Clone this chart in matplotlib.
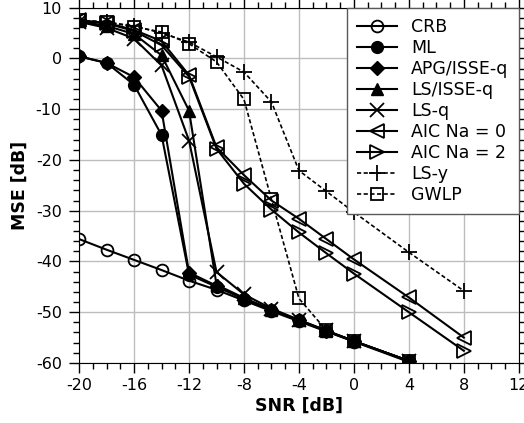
import matplotlib
matplotlib.use("Agg")
import matplotlib.pyplot as plt
from matplotlib.ticker import MultipleLocator

# SNR grids
snr_a = [-20, -18, -16, -14, -12, -10, -8, -6, -4, -2, 0, 4]
snr_b = [-20, -18, -16, -14, -12, -10, -8, -6, -4, -2, 0, 4, 8]

# MSE [dB] per method
mse_crb = [-35.6, -37.7, -39.7, -41.7, -43.8, -45.6, -47.7, -49.8, -51.8, -53.8, -55.8, -59.8]
mse_ml = [0.4, -0.9, -5.2, -15.1, -42.6, -45.0, -47.4, -49.6, -51.6, -53.7, -55.7, -59.6]
mse_apg = [0.4, -0.9, -3.7, -10.3, -42.2, -44.8, -47.3, -49.6, -51.6, -53.7, -55.7, -59.6]
mse_lsisse = [7.3, 6.4, 4.8, 0.6, -10.3, -44.6, -47.2, -49.5, -51.6, -53.7, -55.7, -59.6]
mse_lsq = [7.2, 6.0, 3.9, -1.4, -16.2, -42.1, -46.5, -49.3, -51.5, -53.6, -55.7, -59.6]
mse_aic0 = [7.5, 7.0, 5.6, 3.4, -3.3, -17.5, -23.0, -28.0, -31.6, -35.6, -39.6, -47.1, -55.0]
mse_aic2 = [7.4, 6.9, 5.4, 2.6, -3.6, -17.8, -24.7, -29.8, -34.3, -38.4, -42.4, -50.0, -57.6]
mse_lsy = [7.5, 7.1, 6.4, 5.0, 3.2, 0.3, -2.7, -8.6, -22.1, -26.2, -30.3, -38.2, -45.8]
mse_gwlp = [7.5, 7.2, 6.2, 5.2, 2.9, -0.7, -8.1, -27.8, -47.3, -53.6, -55.7, -59.6]

xticks = [-20, -16, -12, -8, -4, 0, 4, 8, 12]
yticks = [10, 0, -10, -20, -30, -40, -50, -60]

plt.rcParams["font.family"] = ["DejaVu Sans"]
plt.rcParams["axes.unicode_minus"] = False

fig = plt.figure(figsize=(5.24, 4.23), dpi=100)
ax = fig.add_axes([0.151, 0.142, 0.839, 0.840])

ms = 8.5
lw = 1.5
dash = (0, (2.5, 1.5))

ax.plot(snr_a, mse_crb, "k-", marker="o", mfc="none", ms=ms, lw=lw, mew=1.3, label="CRB")
ax.plot(snr_a, mse_ml, "k-", marker="o", ms=ms, lw=lw, label="ML")
ax.plot(snr_a, mse_apg, "k-", marker="D", ms=ms - 1.5, lw=lw, label="APG/ISSE-q")
ax.plot(snr_a, mse_lsisse, "k-", marker="^", ms=ms, lw=lw, label="LS/ISSE-q")
ax.plot(snr_a, mse_lsq, "k-", marker="x", ms=ms + 1.5, lw=lw, mew=1.3, label="LS-q")
ax.plot(snr_b, mse_aic0, "k-", marker="<", mfc="none", ms=ms + 1.5, lw=lw, mew=1.3, label="AIC Na = 0")
ax.plot(snr_b, mse_aic2, "k-", marker=">", mfc="none", ms=ms + 1.5, lw=lw, mew=1.3, label="AIC Na = 2")
ax.plot(snr_b, mse_lsy, "k", ls=dash, marker="+", ms=ms + 3, lw=1.2, mew=1.3, label="LS-y")
ax.plot(snr_a, mse_gwlp, "k", ls=dash, marker="s", mfc="none", ms=ms - 0.5, lw=1.2, mew=1.3, label="GWLP")

ax.set_xlim(-20, 12)
ax.set_ylim(-60, 10)
ax.set_xticks(xticks)
ax.set_yticks(yticks)
ax.xaxis.set_minor_locator(MultipleLocator(1))
ax.yaxis.set_minor_locator(MultipleLocator(2))
ax.tick_params(which="both", direction="out", top=True, right=True, labelsize=11.5)
ax.tick_params(which="major", length=7, width=1)
ax.tick_params(which="minor", length=4, width=1)
ax.tick_params(axis="y", which="major", pad=5.5)
ax.grid(True, which="major", color="#bdbdbd", lw=1)
ax.set_axisbelow(True)

ax.set_xlabel("SNR [dB]", fontsize=12.5, fontweight="bold", labelpad=3)
ax.set_ylabel("MSE [dB]", fontsize=12.5, fontweight="bold", labelpad=5)

leg = ax.legend(loc="upper right", borderaxespad=0, fontsize=12.5, labelspacing=0.17,
                handlelength=2.3, fancybox=False, framealpha=1, borderpad=0.6)
leg.get_frame().set_edgecolor("0.35")
leg.get_frame().set_linewidth(1)

plt.savefig("out.png", dpi=100)
